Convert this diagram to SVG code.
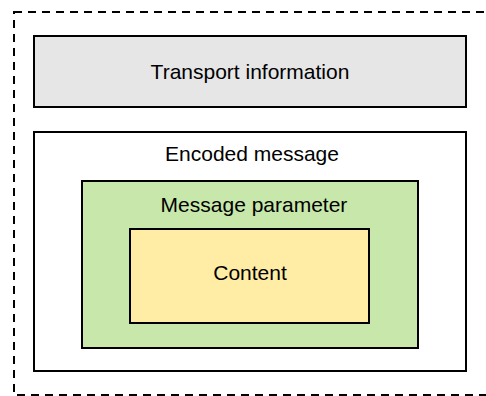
<svg xmlns="http://www.w3.org/2000/svg" width="486" height="396" viewBox="0 0 486 396">
<style>
.box{stroke:#000;stroke-width:2}
.t{font-family:"Liberation Sans",Arial,sans-serif;font-size:21px;fill:#000;text-anchor:middle}
</style>
<rect width="486" height="396" fill="#fff"/>
<g id="container">
<rect x="14" y="12" width="500" height="383" fill="none" stroke="#000" stroke-width="2" stroke-dasharray="8 6"/>
</g>
<g id="transport">
<rect class="box" x="34" y="36" width="432" height="71" fill="#e6e6e6"/>
<text class="t" x="250" y="79">Transport information</text>
</g>
<g id="encoded">
<rect class="box" x="34" y="132" width="432" height="239" fill="#fff"/>
<text class="t" x="252" y="161">Encoded message</text>
</g>
<g id="parameter">
<rect class="box" x="82" y="181" width="336" height="167" fill="#c7e7ab"/>
<text class="t" x="254" y="212">Message parameter</text>
</g>
<g id="content">
<rect class="box" x="130" y="229" width="239" height="94" fill="#ffeca5"/>
<text class="t" x="250" y="280">Content</text>
</g>
<g id="connectors"></g>
</svg>
